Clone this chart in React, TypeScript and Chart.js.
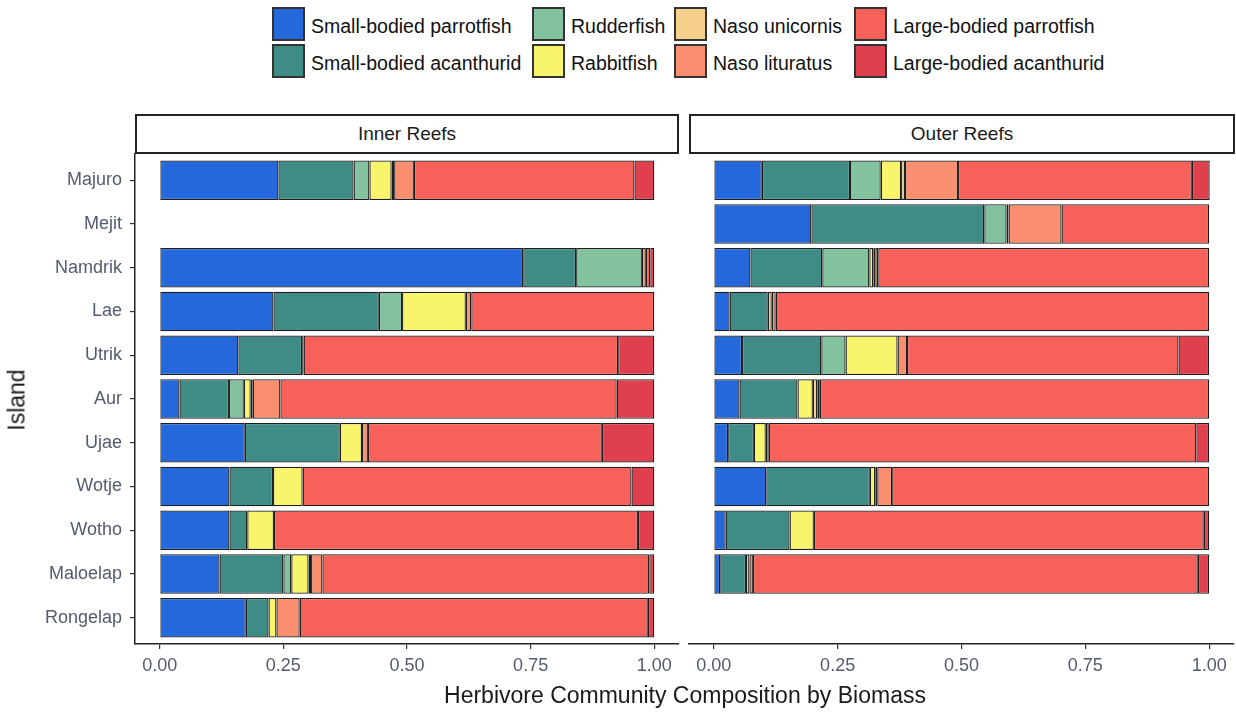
import React, { useEffect, useRef } from "react";
import { Chart, registerables } from "chart.js";

Chart.register(...registerables);

const FONT = "'Liberation Sans', Arial, Helvetica, sans-serif";
Chart.defaults.font.family = FONT;

const islands = ["Majuro", "Mejit", "Namdrik", "Lae", "Utrik", "Aur", "Ujae", "Wotje", "Wotho", "Maloelap", "Rongelap"];
const xTicks = [0, 0.25, 0.5, 0.75, 1];
const panelTitles = ["Inner Reefs", "Outer Reefs"];
const xTitle = "Herbivore Community Composition by Biomass";
const yTitle = "Island";

const seriesNames = [
  "Small-bodied parrotfish",
  "Small-bodied acanthurid",
  "Rudderfish",
  "Rabbitfish",
  "Naso unicornis",
  "Naso lituratus",
  "Large-bodied parrotfish",
  "Large-bodied acanthurid",
];
const seriesColors = ["#2468DC", "#3F8C86", "#82C29E", "#F8F46C", "#F8D08E", "#F98F6E", "#F8605A", "#E0404E"];

// Inner reefs (order follows islands)
const innerSmallParrot = [0.24, null, 0.735, 0.23, 0.159, 0.04, 0.172, 0.141, 0.141, 0.121, 0.174];
const innerSmallAcan = [0.152, null, 0.107, 0.213, 0.129, 0.1, 0.192, 0.088, 0.036, 0.129, 0.046];
const innerRudder = [0.032, null, 0.133, 0.047, 0, 0.03, 0, 0, 0, 0.016, 0];
const innerRabbit = [0.045, null, 0, 0.129, 0, 0.014, 0.045, 0.06, 0.054, 0.035, 0.016];
const innerNasoUni = [0.005, null, 0, 0, 0, 0.004, 0, 0, 0, 0.005, 0];
const innerNasoLit = [0.04, null, 0.008, 0.011, 0.003, 0.056, 0.012, 0, 0, 0.023, 0.047];
const innerLargeParrot = [0.446, null, 0.009, 0.37, 0.636, 0.68, 0.473, 0.665, 0.736, 0.661, 0.704];
const innerLargeAcan = [0.04, null, 0.008, 0, 0.073, 0.076, 0.106, 0.046, 0.033, 0.01, 0.013];

// Outer reefs
const outerSmallParrot = [0.097, 0.197, 0.074, 0.032, 0.057, 0.052, 0.029, 0.106, 0.024, 0.013, null];
const outerSmallAcan = [0.178, 0.349, 0.145, 0.077, 0.16, 0.117, 0.052, 0.209, 0.129, 0.052, null];
const outerRudder = [0.062, 0.045, 0.095, 0, 0.049, 0, 0, 0, 0, 0, null];
const outerRabbit = [0.041, 0, 0.008, 0, 0.105, 0.031, 0.024, 0.011, 0.049, 0, null];
const outerNasoUni = [0.008, 0.004, 0.004, 0.008, 0, 0.009, 0, 0.004, 0, 0.007, null];
const outerNasoLit = [0.107, 0.107, 0.006, 0.008, 0.019, 0.005, 0.006, 0.03, 0, 0.007, null];
const outerLargeParrot = [0.472, 0.298, 0.668, 0.875, 0.548, 0.786, 0.863, 0.64, 0.787, 0.898, null];
const outerLargeAcan = [0.036, 0, 0, 0, 0.062, 0, 0.026, 0, 0.011, 0.023, null];

const innerSeries = [innerSmallParrot, innerSmallAcan, innerRudder, innerRabbit, innerNasoUni, innerNasoLit, innerLargeParrot, innerLargeAcan];
const outerSeries = [outerSmallParrot, outerSmallAcan, outerRudder, outerRabbit, outerNasoUni, outerNasoLit, outerLargeParrot, outerLargeAcan];

const TICK_COLOR = "#545a70";

function makeConfig(series: (number | null)[][], isLeft: boolean): any {
  const axisGrid = {
    display: true,
    drawOnChartArea: false,
    drawTicks: true,
    offset: false,
    tickLength: 5,
    color: "#333",
    lineWidth: 1.2,
  };
  return {
    type: "bar",
    data: {
      datasets: series.map((vals, k) => ({
        label: seriesNames[k],
        data: vals
          .map((v, i) => ({ x: v, y: i }))
          .filter((d) => d.x !== null && d.x !== 0),
        backgroundColor: seriesColors[k],
        borderColor: "#1e1e1e",
        borderWidth: 1.3,
        borderSkipped: false,
        barPercentage: 0.9,
        categoryPercentage: 1,
      })),
    },
    options: {
      indexAxis: "y",
      responsive: false,
      animation: false,
      layout: {
        padding: isLeft
          ? { left: 0, right: 1, top: 154, bottom: 30 }
          : { left: 9, right: 2, top: 154, bottom: 30 },
      },
      plugins: { legend: { display: false }, tooltip: { enabled: false } },
      scales: {
        x: {
          type: "linear",
          stacked: true,
          offset: false,
          min: -0.05,
          max: 1.05,
          afterBuildTicks: (s: any) => {
            s.ticks = xTicks.map((v) => ({ value: v }));
          },
          afterFit: (s: any) => {
            s.height = 40;
          },
          ticks: {
            callback: (v: any) => Number(v).toFixed(2),
            color: TICK_COLOR,
            font: { size: 18 },
            padding: 6,
            autoSkip: false,
            maxRotation: 0,
          },
          grid: axisGrid,
          border: { display: true, color: "#222", width: 1.5 },
        },
        y: {
          type: "linear",
          stacked: true,
          reverse: true,
          offset: false,
          min: -0.6,
          max: 10.6,
          display: isLeft,
          afterBuildTicks: (s: any) => {
            s.ticks = islands.map((_, i) => ({ value: i }));
          },
          afterFit: (s: any) => {
            s.width = isLeft ? 135 : 0;
          },
          ticks: {
            callback: (v: any) => islands[Math.round(Number(v))],
            color: TICK_COLOR,
            font: { size: 18 },
            padding: 8,
            autoSkip: false,
          },
          grid: axisGrid,
          border: { display: true, color: "#222", width: 1.5 },
        },
      },
    },
  };
}

const legendCols = [272, 532, 674, 854];
const legendRows = [7, 44];

export default function App() {
  const leftRef = useRef<HTMLCanvasElement>(null);
  const rightRef = useRef<HTMLCanvasElement>(null);

  useEffect(() => {
    document.body.style.margin = "0";
    const c1 = new Chart(leftRef.current as HTMLCanvasElement, makeConfig(innerSeries, true));
    const c2 = new Chart(rightRef.current as HTMLCanvasElement, makeConfig(outerSeries, false));
    return () => {
      c1.destroy();
      c2.destroy();
    };
  }, []);

  const stripStyle = (left: number, width: number): React.CSSProperties => ({
    position: "absolute",
    left,
    top: 114,
    width,
    height: 40,
    boxSizing: "border-box",
    border: "2px solid #222",
    background: "#fff",
    display: "flex",
    alignItems: "center",
    justifyContent: "center",
    fontSize: 19,
    color: "#1a1a1a",
  });

  return (
    <div
      style={{
        position: "absolute",
        left: 0,
        top: 0,
        width: 1236,
        height: 714,
        background: "#fff",
        fontFamily: FONT,
        overflow: "hidden",
      }}
    >
      {seriesNames.map((name, k) => {
        const col = Math.floor(k / 2);
        const row = k % 2;
        return (
          <div key={name}>
            <div
              style={{
                position: "absolute",
                left: legendCols[col],
                top: legendRows[row],
                width: 33,
                height: 34,
                boxSizing: "border-box",
                border: "2px solid #333",
                background: seriesColors[k],
              }}
            />
            <div
              style={{
                position: "absolute",
                left: legendCols[col] + 39,
                top: legendRows[row] + 2,
                height: 34,
                display: "flex",
                alignItems: "center",
                fontSize: 19.5,
                color: "#111",
                whiteSpace: "nowrap",
              }}
            >
              {name}
            </div>
          </div>
        );
      })}

      <div style={stripStyle(135, 544)}>{panelTitles[0]}</div>
      <div style={stripStyle(689, 546)}>{panelTitles[1]}</div>

      <canvas
        ref={leftRef}
        width={680}
        height={714}
        style={{ position: "absolute", left: 0, top: 0, width: 680, height: 714 }}
      />
      <canvas
        ref={rightRef}
        width={556}
        height={714}
        style={{ position: "absolute", left: 680, top: 0, width: 556, height: 714 }}
      />

      <div
        style={{
          position: "absolute",
          left: 135,
          width: 1100,
          top: 681,
          height: 28,
          textAlign: "center",
          fontSize: 23,
          lineHeight: "28px",
          color: "#1a1a1a",
        }}
      >
        {xTitle}
      </div>
      <div
        style={{
          position: "absolute",
          left: 17,
          top: 400,
          transform: "translate(-50%, -50%) rotate(-90deg)",
          fontSize: 23,
          color: "#1a1a1a",
          whiteSpace: "nowrap",
        }}
      >
        {yTitle}
      </div>
    </div>
  );
}
